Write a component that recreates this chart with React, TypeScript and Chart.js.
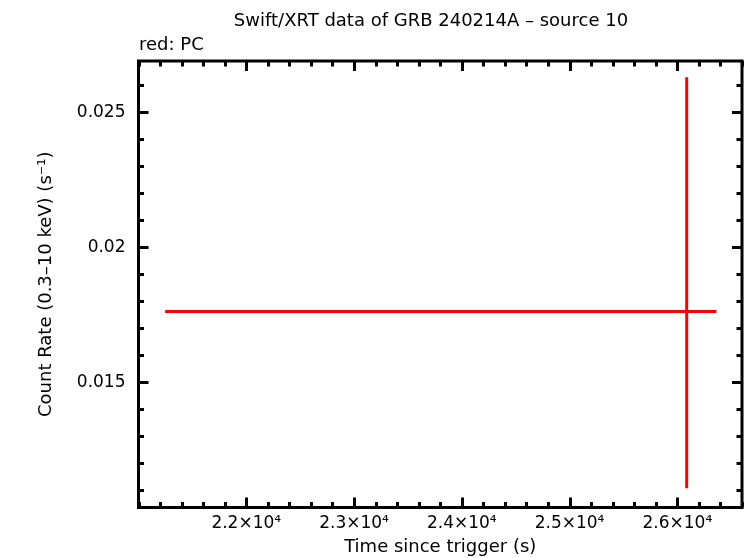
import React, { useEffect, useRef } from 'react';
import { Chart, registerables } from 'chart.js';

Chart.register(...registerables);

const titleText = 'Swift/XRT data of GRB 240214A \u2013 source 10';
const legendText = 'red: PC';
const xAxisTitle = 'Time since trigger (s)';
const yAxisTitle = 'Count Rate (0.3\u201310 keV) (s\u207B\u00B9)';

const xMin = 21000;
const xMax = 26600;
const yMin = 0.01036;
const yMax = 0.0269;

const xMajorTicks = [22000, 23000, 24000, 25000, 26000];
const xTickLabels = ['2.2\u00D710\u2074', '2.3\u00D710\u2074', '2.4\u00D710\u2074', '2.5\u00D710\u2074', '2.6\u00D710\u2074'];
const xMinorStep = 200;
const yMajorTicks = [0.015, 0.02, 0.025];
const yTickLabels = ['0.015', '0.02', '0.025'];
const yMinorStep = 0.001;

// PC mode data point (time, rate) with error bounds
const pcTime = [26087];
const pcTimeLo = [21247];
const pcTimeHi = [26363];
const pcRate = [0.01762];
const pcRateLo = [0.01107];
const pcRateHi = [0.0263];

const FONT = 'DejaVu Sans';
const W = 746;
const H = 558;

const framePlugin = {
  id: 'framePlugin',
  afterDatasetsDraw(chart: any) {
    const { ctx, chartArea, scales } = chart;
    const xs = scales.x;
    const ys = scales.y;
    ctx.save();
    ctx.beginPath();
    ctx.rect(chartArea.left, chartArea.top, chartArea.right - chartArea.left, chartArea.bottom - chartArea.top);
    ctx.clip();
    ctx.strokeStyle = '#ff0000';
    ctx.lineWidth = 3;
    ctx.lineCap = 'butt';
    for (let i = 0; i < pcTime.length; i++) {
      const x = xs.getPixelForValue(pcTime[i]);
      const y = ys.getPixelForValue(pcRate[i]);
      ctx.beginPath();
      ctx.moveTo(xs.getPixelForValue(pcTimeLo[i]), y);
      ctx.lineTo(xs.getPixelForValue(pcTimeHi[i]), y);
      ctx.moveTo(x, ys.getPixelForValue(pcRateLo[i]));
      ctx.lineTo(x, ys.getPixelForValue(pcRateHi[i]));
      ctx.stroke();
    }
    ctx.restore();
  },
  afterDraw(chart: any) {
    const { ctx, chartArea, scales } = chart;
    const xs = scales.x;
    const ys = scales.y;
    const { left, right, top, bottom } = chartArea;
    ctx.save();
    ctx.strokeStyle = '#000';
    ctx.lineWidth = 3;
    ctx.lineJoin = 'miter';
    ctx.strokeRect(left, top, right - left, bottom - top);
    const major = 10;
    const minor = 5.5;
    ctx.beginPath();
    for (let k = Math.ceil(xMin / xMinorStep); k <= Math.floor(xMax / xMinorStep); k++) {
      const v = k * xMinorStep;
      const isMajor = xMajorTicks.some((m) => Math.abs(m - v) < 1e-6);
      const len = isMajor ? major : minor;
      const px = Math.round(xs.getPixelForValue(v)) + 0.5;
      ctx.moveTo(px, bottom);
      ctx.lineTo(px, bottom - len);
      ctx.moveTo(px, top);
      ctx.lineTo(px, top + len);
    }
    for (let k = Math.ceil(yMin / yMinorStep - 1e-9); k <= Math.floor(yMax / yMinorStep + 1e-9); k++) {
      const v = k * yMinorStep;
      const isMajor = yMajorTicks.some((m) => Math.abs(m - v) < 1e-9);
      const len = isMajor ? major : minor;
      const py = Math.round(ys.getPixelForValue(v)) + 0.5;
      ctx.moveTo(left, py);
      ctx.lineTo(left + len, py);
      ctx.moveTo(right, py);
      ctx.lineTo(right - len, py);
    }
    ctx.stroke();

    ctx.fillStyle = '#000';
    ctx.font = `18px "${FONT}"`;
    ctx.textBaseline = 'alphabetic';
    ctx.textAlign = 'center';
    ctx.fillText(titleText, 431, 26);
    ctx.textAlign = 'left';
    ctx.fillText(legendText, 139, 50);
    ctx.restore();
  },
};

export default function App() {
  const ref = useRef<HTMLCanvasElement | null>(null);
  useEffect(() => {
    if (!ref.current) return;
    const chart = new Chart(ref.current, {
      type: 'scatter',
      data: {
        datasets: [
          {
            label: 'PC',
            data: pcTime.map((t, i) => ({ x: t, y: pcRate[i] })),
            pointRadius: 0,
            showLine: false,
            borderColor: '#ff0000',
            backgroundColor: '#ff0000',
          },
        ],
      },
      options: {
        responsive: false,
        animation: false,
        devicePixelRatio: 1,
        layout: { padding: { left: 0, top: 61, right: 4, bottom: 0 } },
        plugins: { legend: { display: false }, tooltip: { enabled: false }, title: { display: false } },
        scales: {
          x: {
            type: 'linear',
            min: xMin,
            max: xMax,
            grid: { display: false, drawTicks: false },
            border: { display: false },
            afterBuildTicks: (s: any) => {
              s.ticks = xMajorTicks.map((v) => ({ value: v }));
            },
            afterFit: (s: any) => {
              s.height = 50.5;
            },
            ticks: {
              autoSkip: false,
              maxRotation: 0,
              minRotation: 0,
              padding: 6,
              color: '#000',
              font: { family: FONT, size: 17 },
              callback: (v: any) => {
                const i = xMajorTicks.findIndex((m) => Math.abs(m - Number(v)) < 1e-6);
                return i >= 0 ? xTickLabels[i] : '';
              },
            },
            title: {
              display: true,
              text: xAxisTitle,
              color: '#000',
              font: { family: FONT, size: 18 },
              padding: { top: 0, bottom: 0 },
            },
          },
          y: {
            type: 'linear',
            min: yMin,
            max: yMax,
            grid: { display: false, drawTicks: false },
            border: { display: false },
            afterBuildTicks: (s: any) => {
              s.ticks = yMajorTicks.map((v) => ({ value: v }));
            },
            afterFit: (s: any) => {
              s.width = 138.5;
            },
            ticks: {
              autoSkip: false,
              padding: 13,
              color: '#000',
              font: { family: FONT, size: 17 },
              callback: (v: any) => {
                const i = yMajorTicks.findIndex((m) => Math.abs(m - Number(v)) < 1e-9);
                return i >= 0 ? yTickLabels[i] : '';
              },
            },
            title: {
              display: true,
              text: yAxisTitle,
              color: '#000',
              font: { family: FONT, size: 18 },
              padding: { top: 36, bottom: 0 },
            },
          },
        },
      },
      plugins: [framePlugin],
    });
    return () => chart.destroy();
  }, []);
  return (
    <div style={{ position: 'absolute', left: 0, top: 0, width: W, height: H, background: '#fff' }}>
      <canvas ref={ref} width={W} height={H} style={{ display: 'block' }} />
    </div>
  );
}
